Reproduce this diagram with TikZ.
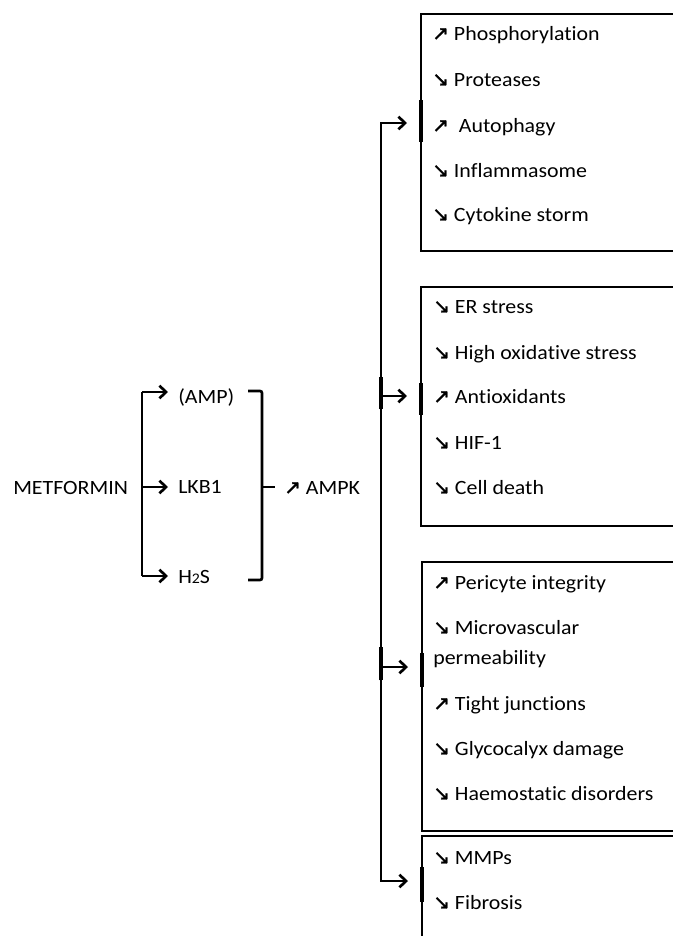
\documentclass[tikz,border=0pt]{standalone}
\usepackage{fontspec}
\setmainfont{Carlito}[FakeStretch=1.08, Ligatures={NoCommon}]
\newfontfamily\symf{DejaVu Sans}[FakeBold=1.5]
\usetikzlibrary{arrows.meta}
\newcommand{\upar}{{\symf\fontsize{15}{15}\selectfont ↗}}
\newcommand{\dnar}{{\symf\fontsize{15}{15}\selectfont ↘}}
\begin{document}
\begin{tikzpicture}[x=0.75pt,y=-0.75pt,
  txt/.style={anchor=base west, inner sep=0pt, font=\fontsize{15.2}{18}\selectfont},
  box/.style={draw, line width=1.6pt, anchor=north west, inner sep=0pt, minimum width=225pt},
  line/.style={line width=2pt, line join=miter},
  conn/.style={line width=2pt, line join=miter, -{Straight Barb[length=5pt,width=9.5pt]}},
  thickmark/.style={line width=2.8pt}]
\clip (0,0) rectangle (673,936);
\useasboundingbox (0,0) rectangle (673,936);

% left part
\node[txt] (met) at (13,494) {METFORMIN};
\node[txt] (amp) at (178,403) {(AMP)};
\node[txt] (lkb) at (178,493) {LKB1};
\node[txt] (h2s) at (178,583) {H{\fontsize{11}{11}\selectfont 2}S};
\node[txt] (ampk) at (284,494) {\upar\ AMPK};

\coordinate (jt) at (142,392);
\coordinate (jm) at (142,487);
\coordinate (jb) at (142,576);
\draw[line] (jt) -- (jb);
\draw[conn, shorten >=7.5pt] (jt) -- (jt -| amp.west);
\draw[conn, shorten >=7.5pt] (jm) -- (jm -| lkb.west);
\draw[conn, shorten >=7.5pt] (jb) -- (jb -| h2s.west);

% bracket
\coordinate (kt) at (262,391);
\coordinate (kb) at (262,580);
\coordinate (km) at (262,487);
\draw[line, rounded corners=1.5pt] ([xshift=-10.5pt]kt) -- (kt) -- (kb) -- ([xshift=-10.5pt]kb);
\draw[line] (km) -- ++(13,0);

% boxes
\node[box, minimum height=177.75pt] (b1) at (420,13) {};
\node[box, minimum height=179.25pt] (b2) at (420,286) {};
\node[box, minimum height=201.75pt] (b3) at (421,561) {};
\node[box, minimum height=160pt] (b4) at (421,835) {};

% box texts
\node[txt] (t11) at (432,40) {\upar\ Phosphorylation};
\node[txt] (t12) at (432,86) {\dnar\ Proteases};
\node[txt] (t13) at (432,132) {\upar\ \ Autophagy};
\node[txt] (t14) at (432,177) {\dnar\ Inflammasome};
\node[txt] (t15) at (432,221) {\dnar\ Cytokine storm};

\node[txt] (t21) at (433,313) {\dnar\ ER stress};
\node[txt] (t22) at (433,359) {\dnar\ High oxidative stress};
\node[txt] (t23) at (433,403) {\upar\ Antioxidants};
\node[txt] (t24) at (433,449) {\dnar\ HIF-1};
\node[txt] (t25) at (433,494) {\dnar\ Cell death};

\node[txt] (t31) at (433,589) {\upar\ Pericyte integrity};
\node[txt] (t32) at (433,634) {\dnar\ Microvascular};
\node[txt] (t32b) at (433,664) {permeability};
\node[txt] (t33) at (433,710) {\upar\ Tight junctions};
\node[txt] (t34) at (433,755) {\dnar\ Glycocalyx damage};
\node[txt] (t35) at (433,800) {\dnar\ Haemostatic disorders};

\node[txt] (t41) at (433,864) {\dnar\ MMPs};
\node[txt] (t42) at (433,909) {\dnar\ Fibrosis};

% long bar
\coordinate (bt) at (381,123);
\coordinate (b2j) at (381,396);
\coordinate (b3j) at (381,667);
\coordinate (bb) at (381,881);
\draw[conn, shorten >=9.75pt] (b2j) -- (bt) -- (bt -| b1.west);
\draw[conn, shorten >=9.75pt] (b2j) -- (bb) -- (bb -| b4.west);
\draw[conn, shorten >=9.75pt] (b2j) -- (b2j -| b2.west);
\draw[conn, shorten >=9.75pt] (b3j) -- (b3j -| b3.west);

% thicker marks
\draw[thickmark] ([yshift=-10pt]b2j) -- ([yshift=14pt]b2j);
\draw[thickmark] ([yshift=-10pt]b3j) -- ([yshift=15pt]b3j);
\draw[thickmark] ([xshift=0.8pt]b1.west |- 0,100) -- ([xshift=0.8pt]b1.west |- 0,142);
\draw[thickmark] ([xshift=0.8pt]b2.west |- 0,383) -- ([xshift=0.8pt]b2.west |- 0,415);
\draw[thickmark] ([xshift=0.8pt]b3.west |- 0,653) -- ([xshift=0.8pt]b3.west |- 0,687);
\draw[thickmark] ([xshift=0.8pt]b4.west |- 0,867) -- ([xshift=0.8pt]b4.west |- 0,902);
\end{tikzpicture}
\end{document}
